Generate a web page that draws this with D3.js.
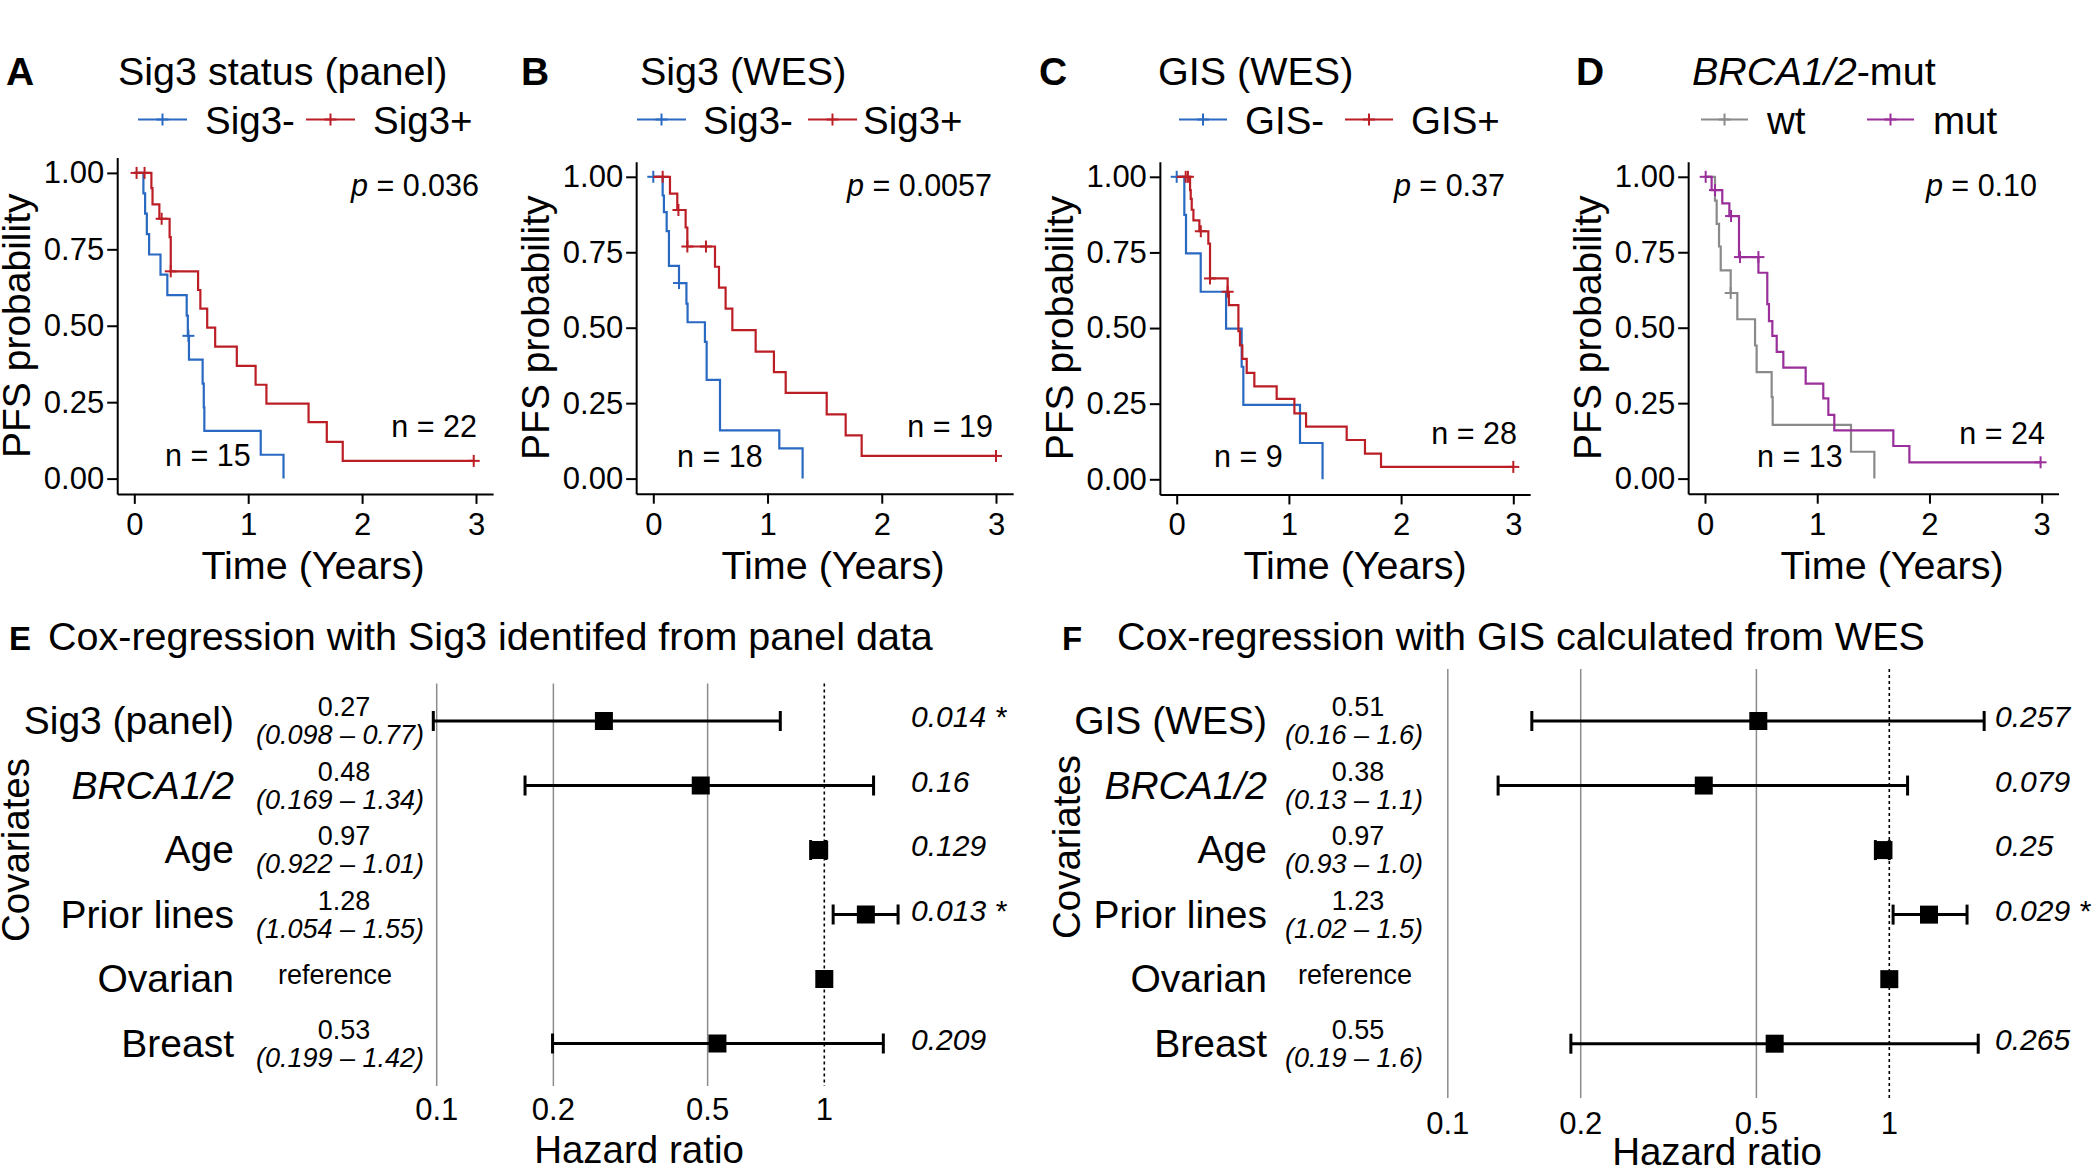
<!DOCTYPE html>
<html><head><meta charset="utf-8">
<script src="https://cdn.jsdelivr.net/npm/d3@7"></script>
<style>
html,body{margin:0;padding:0;background:#fff;}
svg{display:block;font-family:"Liberation Sans",Arial,Helvetica,sans-serif;}
</style></head><body>
<svg id="chart" width="2100" height="1172"></svg>
<script>
// ---------------- DATA ----------------
const timeTicks = [0, 1, 2, 3];
const timeTickLabels = ["0", "1", "2", "3"];
const probTicks = [0, 0.25, 0.5, 0.75, 1];
const probTickLabels = ["0.00", "0.25", "0.50", "0.75", "1.00"];

const kmLetters = ["A", "B", "C", "D"];
const kmTitles = ["Sig3 status (panel)", "Sig3 (WES)", "GIS (WES)", "BRCA1/2-mut"];
const kmLegendLow = ["Sig3-", "Sig3-", "GIS-", "wt"];
const kmLegendHigh = ["Sig3+", "Sig3+", "GIS+", "mut"];
const kmPValues = ["0.036", "0.0057", "0.37", "0.10"];
const kmNLow = [15, 18, 9, 13];
const kmNHigh = [22, 19, 28, 24];

// step points [time, survival after drop]
const sig3PanelNeg = [[0,1],[0.08,0.933],[0.095,0.867],[0.11,0.8],[0.13,0.733],[0.23,0.667],[0.29,0.6],[0.46,0.533],[0.47,0.467],[0.48,0.389],[0.6,0.311],[0.61,0.233],[0.615,0.156],[1.11,0.078],[1.31,0]];
const sig3PanelNegEnd = 1.31;
const sig3PanelNegCensor = [[0.475,0.467]];
const sig3PanelPos = [[0,1],[0.15,0.95],[0.16,0.897],[0.22,0.85],[0.31,0.79],[0.32,0.678],[0.56,0.617],[0.58,0.556],[0.64,0.494],[0.71,0.432],[0.9,0.369],[1.065,0.307],[1.16,0.245],[1.53,0.185],[1.69,0.12],[1.83,0.058]];
const sig3PanelPosEnd = 2.98;
const sig3PanelPosCensor = [[0.02,1],[0.09,1],[0.24,0.85],[0.32,0.678],[2.98,0.058]];

const sig3WesNeg = [[0,1],[0.082,0.938],[0.093,0.883],[0.117,0.82],[0.137,0.705],[0.225,0.648],[0.29,0.58],[0.3,0.518],[0.452,0.453],[0.467,0.327],[0.584,0.16],[1.103,0.1],[1.307,0]];
const sig3WesNegEnd = 1.307;
const sig3WesNegCensor = [[0,1],[0.225,0.648]];
const sig3WesPos = [[0,1],[0.146,0.944],[0.21,0.89],[0.283,0.832],[0.298,0.769],[0.54,0.702],[0.575,0.633],[0.633,0.563],[0.692,0.492],[0.896,0.421],[1.056,0.353],[1.159,0.284],[1.518,0.213],[1.684,0.143],[1.824,0.075]];
const sig3WesPosEnd = 3.0;
const sig3WesPosCensor = [[0.082,1],[0.22,0.89],[0.298,0.769],[0.461,0.769],[3.0,0.075]];

const gisWesNeg = [[0,1],[0.068,0.874],[0.083,0.747],[0.214,0.62],[0.44,0.498],[0.579,0.372],[0.594,0.246],[1.099,0.12],[1.3,0]];
const gisWesNegEnd = 1.3;
const gisWesNegCensor = [[0,1]];
const gisWesPos = [[0,1],[0.119,0.956],[0.125,0.927],[0.134,0.891],[0.149,0.856],[0.202,0.82],[0.282,0.779],[0.297,0.664],[0.454,0.62],[0.465,0.576],[0.55,0.49],[0.564,0.443],[0.585,0.398],[0.624,0.352],[0.692,0.307],[0.891,0.266],[1.049,0.218],[1.153,0.174],[1.515,0.13],[1.678,0.085],[1.821,0.041]];
const gisWesPosEnd = 3.0;
const gisWesPosCensor = [[0.08,1],[0.1,1],[0.215,0.82],[0.297,0.664],[0.454,0.62],[3.0,0.041]];

const brcaWt = [[0,1],[0.089,0.921],[0.104,0.844],[0.125,0.769],[0.14,0.69],[0.229,0.615],[0.288,0.528],[0.446,0.441],[0.46,0.353],[0.594,0.27],[0.603,0.178],[1.301,0.089],[1.509,0]];
const brcaWtEnd = 1.509;
const brcaWtCensor = [[0.229,0.615]];
const brcaMut = [[0,1],[0.059,0.956],[0.154,0.912],[0.217,0.87],[0.303,0.734],[0.476,0.682],[0.555,0.578],[0.57,0.522],[0.6,0.473],[0.639,0.42],[0.698,0.368],[0.897,0.315],[1.054,0.266],[1.099,0.211],[1.152,0.16],[1.678,0.108],[1.821,0.054]];
const brcaMutEnd = 2.99;
const brcaMutCensor = [[0.006,1],[0.089,0.956],[0.232,0.87],[0.312,0.734],[0.476,0.734],[2.99,0.054]];

const hrTicks = [0.1, 0.2, 0.5, 1];
const hrTickLabels = ["0.1", "0.2", "0.5", "1"];

const coxSig3Covariates = ["Sig3 (panel)", "BRCA1/2", "Age", "Prior lines", "Ovarian", "Breast"];
const coxSig3HR = [0.27, 0.48, 0.97, 1.28, 1, 0.53];
const coxSig3Low = [0.098, 0.169, 0.922, 1.054, null, 0.199];
const coxSig3High = [0.77, 1.34, 1.01, 1.55, null, 1.42];
const coxSig3EstLabel = ["0.27", "0.48", "0.97", "1.28", "reference", "0.53"];
const coxSig3CILabel = ["(0.098 – 0.77)", "(0.169 – 1.34)", "(0.922 – 1.01)", "(1.054 – 1.55)", "", "(0.199 – 1.42)"];
const coxSig3P = ["0.014 *", "0.16", "0.129", "0.013 *", "", "0.209"];

const coxGisCovariates = ["GIS (WES)", "BRCA1/2", "Age", "Prior lines", "Ovarian", "Breast"];
const coxGisHR = [0.505, 0.38, 0.97, 1.23, 1, 0.55];
const coxGisLow = [0.155, 0.13, 0.93, 1.02, null, 0.19];
const coxGisHigh = [1.64, 1.1, 1.0, 1.5, null, 1.59];
const coxGisEstLabel = ["0.51", "0.38", "0.97", "1.23", "reference", "0.55"];
const coxGisCILabel = ["(0.16 – 1.6)", "(0.13 – 1.1)", "(0.93 – 1.0)", "(1.02 – 1.5)", "", "(0.19 – 1.6)"];
const coxGisP = ["0.257", "0.079", "0.25", "0.029 *", "", "0.265"];

// ---------------- LAYOUT ----------------
const BLUE = "#2A69C2", RED = "#BC1E26", GRAY = "#8A8A8A", PURPLE = "#9A2E9A";
const svg = d3.select("#chart");

const kmPanels = [
  {i:0, lowData:sig3PanelNeg, lowEnd:sig3PanelNegEnd, lowCens:sig3PanelNegCensor, hiData:sig3PanelPos, hiEnd:sig3PanelPosEnd, hiCens:sig3PanelPosCensor, lowCol:BLUE, hiCol:RED,
   letterX:6, titleX:118, x0:134.3, x3:476, y0:478.6, y1:172.9, leg:[138,187,205,306,355,373], pX:479, nHiX:477, nHiY:436.5, nLoX:165, nLoY:466, xlabX:313},
  {i:1, lowData:sig3WesNeg, lowEnd:sig3WesNegEnd, lowCens:sig3WesNegCensor, hiData:sig3WesPos, hiEnd:sig3WesPosEnd, hiCens:sig3WesPosCensor, lowCol:BLUE, hiCol:RED,
   letterX:521, titleX:640, x0:653.3, x3:996, y0:478.6, y1:176.8, leg:[637,686,703,808,857,863], pX:992, nHiX:993, nHiY:436.5, nLoX:677, nLoY:467, xlabX:833},
  {i:2, lowData:gisWesNeg, lowEnd:gisWesNegEnd, lowCens:gisWesNegCensor, hiData:gisWesPos, hiEnd:gisWesPosEnd, hiCens:gisWesPosCensor, lowCol:BLUE, hiCol:RED,
   letterX:1039, titleX:1158, x0:1176.7, x3:1513.3, y0:479.3, y1:176.8, leg:[1179,1227,1245,1345,1393,1411], pX:1505, nHiX:1517, nHiY:444, nLoX:1214, nLoY:467, xlabX:1355},
  {i:3, lowData:brcaWt, lowEnd:brcaWtEnd, lowCens:brcaWtCensor, hiData:brcaMut, hiEnd:brcaMutEnd, hiCens:brcaMutCensor, lowCol:GRAY, hiCol:PURPLE,
   letterX:1576, titleX:1692, x0:1705, x3:2041.7, y0:478.6, y1:176.8, leg:[1701,1748,1767,1867,1914,1933], pX:2037, nHiX:2045, nHiY:444, nLoX:1757, nLoY:467, xlabX:1892}
];

function plus(g, cx, cy, col, size) {
  g.append("line").attr("x1", cx - size/2).attr("x2", cx + size/2).attr("y1", cy).attr("y2", cy)
    .attr("stroke", col).attr("stroke-width", 2);
  g.append("line").attr("x1", cx).attr("x2", cx).attr("y1", cy - size/2).attr("y2", cy + size/2)
    .attr("stroke", col).attr("stroke-width", 2);
}

function drawKM(p) {
  const g = svg.append("g");
  const k = (p.x3 - p.x0) / 3;
  const u = (p.y0 - p.y1);
  const x = d3.scaleLinear().domain([-0.15, 3.15]).range([p.x0 - 0.15*k, p.x3 + 0.15*k]);
  const y = d3.scaleLinear().domain([-0.05, 1.05]).range([p.y0 + 0.05*u, p.y1 - 0.05*u]);
  const axisY = y(-0.05), axisX = x(-0.15);

  g.append("text").attr("x", p.letterX).attr("y", 85).attr("font-size", 39).attr("font-weight", "bold").text(kmLetters[p.i]);
  const t = g.append("text").attr("x", p.titleX).attr("y", 84.5).attr("font-size", 39.5);
  if (p.i === 3) {
    t.append("tspan").attr("font-style", "italic").text(kmTitles[p.i].split("-")[0]);
    t.append("tspan").text("-" + kmTitles[p.i].split("-")[1]);
  } else t.text(kmTitles[p.i]);

  const L = p.leg;
  [[L[0], L[1], L[2], p.lowCol, kmLegendLow[p.i]], [L[3], L[4], L[5], p.hiCol, kmLegendHigh[p.i]]].forEach(e => {
    g.append("line").attr("x1", e[0]).attr("x2", e[1]).attr("y1", 119.5).attr("y2", 119.5).attr("stroke", e[3]).attr("stroke-width", 2.2);
    plus(g, (e[0] + e[1]) / 2, 119.5, e[3], 12);
    g.append("text").attr("x", e[2]).attr("y", 133.5).attr("font-size", 38.5).text(e[4]);
  });

  const xa = g.append("g").attr("transform", `translate(0,${axisY})`)
    .call(d3.axisBottom(x).tickValues(timeTicks).tickFormat((d, i) => timeTickLabels[i]).tickSize(10).tickSizeOuter(0).tickPadding(9));
  const ya = g.append("g").attr("transform", `translate(${axisX},0)`)
    .call(d3.axisLeft(y).tickValues(probTicks).tickFormat((d, i) => probTickLabels[i]).tickSize(10).tickSizeOuter(0).tickPadding(3));
  [xa, ya].forEach(a => {
    a.select(".domain").attr("stroke", "#000").attr("stroke-width", 2);
    a.selectAll(".tick line").attr("stroke", "#000").attr("stroke-width", 2);
    a.selectAll(".tick text").attr("fill", "#000").attr("font-size", 31).attr("font-family", "Liberation Sans, Arial, sans-serif");
  });

  g.append("text").attr("x", p.xlabX).attr("y", 579).attr("text-anchor", "middle").attr("font-size", 39.5).text("Time (Years)");
  g.append("text").attr("transform", `translate(${axisX - 87},${(p.y0 + p.y1) / 2}) rotate(-90)`)
    .attr("text-anchor", "middle").attr("font-size", 39).text("PFS probability");

  const line = d3.line().x(d => x(d[0])).y(d => y(d[1])).curve(d3.curveStepAfter);
  [[p.lowData, p.lowEnd, p.lowCens, p.lowCol], [p.hiData, p.hiEnd, p.hiCens, p.hiCol]].forEach(c => {
    const pts = c[0].concat([[c[1], c[0][c[0].length - 1][1]]]);
    g.append("path").attr("d", line(pts)).attr("fill", "none").attr("stroke", c[3]).attr("stroke-width", 2.2);
    c[2].forEach(d => plus(g, x(d[0]), y(d[1]), c[3], 12));
  });

  const pt = g.append("text").attr("x", p.pX).attr("y", 195.5).attr("text-anchor", "end").attr("font-size", 30.5);
  pt.append("tspan").attr("font-style", "italic").text("p");
  pt.append("tspan").text(" = " + kmPValues[p.i]);
  g.append("text").attr("x", p.nHiX).attr("y", p.nHiY).attr("text-anchor", "end").attr("font-size", 30.5).text("n = " + kmNHigh[p.i]);
  g.append("text").attr("x", p.nLoX).attr("y", p.nLoY).attr("font-size", 30.5).text("n = " + kmNLow[p.i]);
}
kmPanels.forEach(drawKM);

// ---------------- FOREST ----------------
const forestPanels = [
  {letter:"E", title:"Cox-regression with Sig3 identifed from panel data", cov:coxSig3Covariates, hr:coxSig3HR, lo:coxSig3Low, hi:coxSig3High, est:coxSig3EstLabel, ci:coxSig3CILabel, pv:coxSig3P,
   x01:436.7, x1:824.3, gridTop:683.5, gridBot:1086, rowTop:721, rowBot:1043.5, labelX:234, estX:344, ciX:340, refX:335, pX:911, tickY:1119.5, hrX:639, hrY:1163, covX:29, covY:850, letterX:9, titleX:48},
  {letter:"F", title:"Cox-regression with GIS calculated from WES", cov:coxGisCovariates, hr:coxGisHR, lo:coxGisLow, hi:coxGisHigh, est:coxGisEstLabel, ci:coxGisCILabel, pv:coxGisP,
   x01:1447.8, x1:1889.3, gridTop:669, gridBot:1098, rowTop:721, rowBot:1043.7, labelX:1267, estX:1358, ciX:1354, refX:1355, pX:1995, tickY:1133.5, hrX:1717, hrY:1165, covX:1080, covY:847, letterX:1062, titleX:1117}
];

function drawForest(f) {
  const g = svg.append("g");
  const x = d3.scaleLog().domain([0.1, 1]).range([f.x01, f.x1]);
  const y = d3.scalePoint().domain(d3.range(f.cov.length)).range([f.rowTop, f.rowBot]);

  g.append("text").attr("x", f.letterX).attr("y", 649.5).attr("font-size", 33).attr("font-weight", "bold").text(f.letter);
  g.append("text").attr("x", f.titleX).attr("y", 649.5).attr("font-size", 39.5).text(f.title);

  hrTicks.forEach((t, i) => {
    g.append("line").attr("x1", x(t)).attr("x2", x(t)).attr("y1", f.gridTop).attr("y2", f.gridBot)
      .attr("stroke", t === 1 ? "#000" : "#8c8c8c").attr("stroke-width", t === 1 ? 1.6 : 1.5)
      .attr("stroke-dasharray", t === 1 ? "3,3" : null);
    g.append("text").attr("x", x(t)).attr("y", f.tickY).attr("text-anchor", "middle").attr("font-size", 31).text(hrTickLabels[i]);
  });
  g.append("text").attr("x", f.hrX).attr("y", f.hrY).attr("text-anchor", "middle").attr("font-size", 38.5).text("Hazard ratio");
  g.append("text").attr("transform", `translate(${f.covX},${f.covY}) rotate(-90)`).attr("text-anchor", "middle").attr("font-size", 38.5).text("Covariates");

  f.cov.forEach((c, i) => {
    const yy = y(i);
    g.append("text").attr("x", f.labelX).attr("y", yy + 13).attr("text-anchor", "end").attr("font-size", 39)
      .attr("font-style", c === "BRCA1/2" ? "italic" : null).text(c);
    if (f.est[i] === "reference") {
      g.append("text").attr("x", f.refX).attr("y", yy + 5).attr("text-anchor", "middle").attr("font-size", 27).text(f.est[i]);
    } else {
      g.append("text").attr("x", f.estX).attr("y", yy - 5).attr("text-anchor", "middle").attr("font-size", 27).text(f.est[i]);
      g.append("text").attr("x", f.ciX).attr("y", yy + 23).attr("text-anchor", "middle").attr("font-size", 27).attr("font-style", "italic").text(f.ci[i]);
    }
    if (f.lo[i] !== null) {
      g.append("line").attr("x1", x(f.lo[i])).attr("x2", x(f.hi[i])).attr("y1", yy).attr("y2", yy).attr("stroke", "#000").attr("stroke-width", 3);
      [f.lo[i], f.hi[i]].forEach(v => g.append("line").attr("x1", x(v)).attr("x2", x(v)).attr("y1", yy - 10).attr("y2", yy + 10).attr("stroke", "#000").attr("stroke-width", 3));
    }
    g.append("rect").attr("x", x(f.hr[i]) - 9).attr("y", yy - 9).attr("width", 18).attr("height", 18).attr("fill", "#000");
    if (f.pv[i]) {
      g.append("text").attr("x", f.pX).attr("y", yy + 6).attr("font-size", 30).attr("font-style", "italic").text(f.pv[i]);
    }
  });
}
forestPanels.forEach(drawForest);
</script></body></html>
